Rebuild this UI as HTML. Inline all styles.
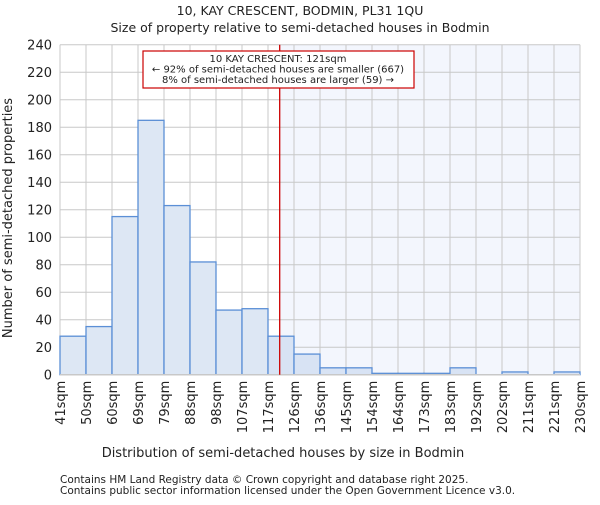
<!DOCTYPE html>
<html><head><meta charset="utf-8"><style>
body{margin:0;background:#fff}
svg text{font-family:"DejaVu Sans","Liberation Sans",sans-serif;fill:#222}
</style></head><body>
<svg id="chart" width="600" height="500" xmlns="http://www.w3.org/2000/svg">
<text x="300" y="15" font-size="12.5" text-anchor="middle">10, KAY CRESCENT, BODMIN, PL31 1QU</text>
<text x="300" y="32" font-size="12.5" text-anchor="middle">Size of property relative to semi-detached houses in Bodmin</text>
<g id="g"></g>
<text x="283" y="457" font-size="13" text-anchor="middle">Distribution of semi-detached houses by size in Bodmin</text>
<text transform="translate(12,218) rotate(-90)" font-size="13" text-anchor="middle">Number of semi-detached properties</text>
<text x="60" y="483" font-size="10.5">Contains HM Land Registry data © Crown copyright and database right 2025.</text>
<text x="60" y="494" font-size="10.5">Contains public sector information licensed under the Open Government Licence v3.0.</text>
</svg>
<script>
const edgeLabels=["41sqm","50sqm","60sqm","69sqm","79sqm","88sqm","98sqm","107sqm","117sqm","126sqm","136sqm","145sqm","154sqm","164sqm","173sqm","183sqm","192sqm","202sqm","211sqm","221sqm","230sqm"];
const counts=[28,35,115,185,123,82,47,48,28,15,5,5,1,1,1,5,0,2,0,2];
const yTicks=[0,20,40,60,80,100,120,140,160,180,200,220,240];
const propertyBinPos=[8.45];
const NS="http://www.w3.org/2000/svg";
const L=60,R=580,T=44.7,B=374.7,yMax=240;
const bw=(R-L)/counts.length;
const xs=i=>L+i*bw;
const ys=v=>B-(v/yMax)*(B-T);
const g=document.getElementById('g');
function mk(t,a){const e=document.createElementNS(NS,t);for(const k in a)e.setAttribute(k,a[k]);g.appendChild(e);return e;}
const lineX=xs(propertyBinPos[0]);
let e=mk('rect',{x:lineX,y:T,width:R-lineX,height:B-T,fill:'#f3f6fd'});


yTicks.forEach(v=>{
 let l=mk('line',{x1:L,x2:R,y1:ys(v),y2:ys(v),stroke:'#c8c8c8','stroke-width':1});
 
 
 let t=mk('text',{x:L-8,y:ys(v)+5,'font-size':13,'text-anchor':'end'});t.textContent=v;
 
 
});
edgeLabels.forEach((s,i)=>{
 let l=mk('line',{x1:xs(i),x2:xs(i),y1:T,y2:B,stroke:'#c8c8c8','stroke-width':1});
 
 
 let t=mk('text',{transform:`translate(${xs(i)+5},${B+6}) rotate(-90)`,'font-size':13,'text-anchor':'end'});t.textContent=s;
 
 
});
counts.forEach((c,i)=>{
 let r=mk('rect',{x:xs(i),y:ys(c),width:bw,height:B-ys(c),fill:i>=8?'#d8e3f4':'#dde7f4',stroke:'#5b8fd6','stroke-width':1.3});
 
 
});
e=mk('line',{x1:L,x2:R,y1:B,y2:B,stroke:'#c8c8c8','stroke-width':1.5});


e=mk('line',{x1:lineX,x2:lineX,y1:T,y2:B,stroke:'#cc0000','stroke-width':1.3});


e=mk('rect',{x:143,y:51,width:271,height:37,fill:'#fff',stroke:'#cc0000','stroke-width':1.2});


["10 KAY CRESCENT: 121sqm","← 92% of semi-detached houses are smaller (667)","8% of semi-detached houses are larger (59) →"].forEach((s,i)=>{
 let t=mk('text',{x:278,y:62+i*10.5,'font-size':10,'text-anchor':'middle'});t.textContent=s;
 
 
});
</script>
</body></html>
